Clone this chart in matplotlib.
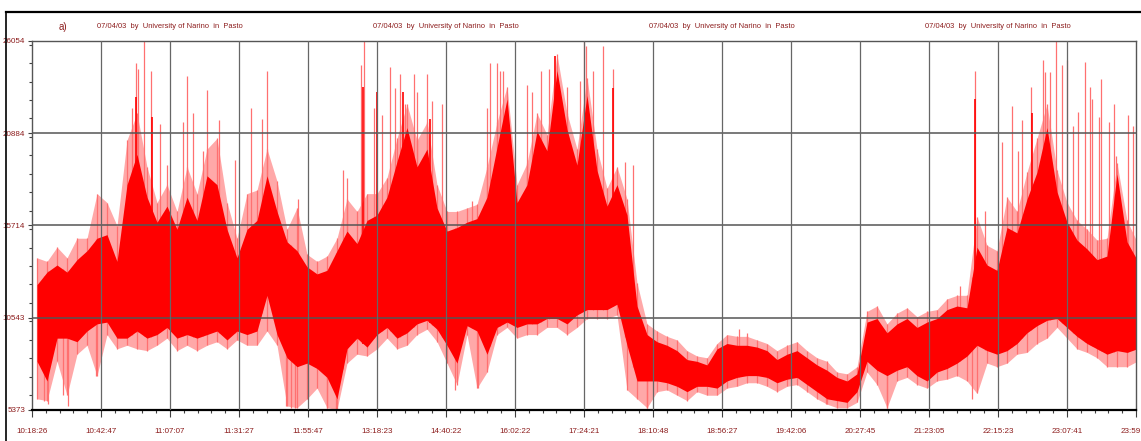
import numpy as np
import matplotlib.pyplot as plt
from matplotlib.lines import Line2D
from matplotlib.ticker import MultipleLocator

plt.rcParams['font.family'] = ['Liberation Sans Narrow', 'Liberation Sans', 'DejaVu Sans']

# x axis = sample index, one major tick every 69 samples
tick_labels = ['10:18:26', '10:42:47', '11:07:07', '11:31:27', '11:55:47', '13:18:23',
               '14:40:22', '16:02:22', '17:24:21', '18:10:48', '18:56:27', '19:42:06',
               '20:27:45', '21:23:05', '22:15:23', '23:07:41', '23:59:59']
y_ticks = [5373, 10543, 15714, 20884, 26054]

# envelope of the traffic signal, one reading every 10 samples
seg_x = np.arange(5, 1110, 10)
hi = [12400, 13100, 13500, 13100, 13800, 14300, 15000, 15200, 13700, 18000,
      19700, 17300, 15900, 16800, 15500, 17300, 16000, 18500, 18000, 15500,
      13900, 15500, 16000, 18500, 16500, 14800, 14300, 13400, 13000, 13200,
      14300, 15400, 14700, 16000, 16300, 17300, 19300, 21200, 19000, 20000,
      16700, 15400, 15600, 15900, 16100, 17300, 20100, 22800, 17000, 18000,
      21000, 19900, 24400, 21100, 19100, 23000, 18800, 16800, 18000, 16300,
      11200, 9600, 9200, 9000, 8700, 8200, 8100, 7900, 8800, 9100,
      9000, 9000, 8900, 8700, 8200, 8500, 8700, 8300, 7900, 7600,
      7200, 7000, 7400, 10300, 10500, 9700, 10200, 10500, 10000, 10300,
      10500, 11000, 11200, 11100, 14500, 13500, 13200, 15600, 15300, 17200,
      18700, 21200, 17600, 15900, 14900, 14400, 13800, 14000, 18600, 14800,
      13800]
up = [13900, 13700, 14500, 13900, 15000, 15000, 17500, 17000, 15700, 20500,
      22000, 19000, 17000, 18000, 16500, 19000, 17500, 20000, 20600, 17000,
      15000, 17500, 17700, 20000, 18200, 15500, 16700, 14100, 13700, 14000,
      15000, 17200, 16500, 17500, 17500, 18400, 20600, 22500, 20500, 21500,
      18000, 16500, 16500, 16700, 16900, 19000, 21500, 23500, 18000, 19200,
      22000, 20800, 25300, 22000, 20000, 24000, 20000, 17800, 19000, 17200,
      12500, 10200, 9800, 9500, 9300, 8700, 8400, 8300, 9100, 9600,
      9500, 9500, 9300, 9100, 8700, 9000, 9200, 8700, 8300, 8100,
      7500, 7400, 7800, 10900, 11200, 10200, 10800, 11100, 10600, 10900,
      11000, 11600, 11800, 11800, 16200, 14600, 14300, 17300, 16500, 18700,
      20600, 22500, 18800, 17000, 16000, 15500, 14900, 15000, 19200, 16000,
      14800]
lo = [8100, 7000, 9400, 9400, 9200, 9800, 10200, 10300, 9400, 9400,
      9800, 9400, 9600, 10000, 9400, 9600, 9400, 9600, 9800, 9300,
      9800, 9600, 9800, 11800, 9600, 8300, 7800, 8000, 7700, 7200,
      6000, 8800, 9400, 8900, 9600, 10000, 9400, 9700, 10200, 10400,
      9900, 9000, 8000, 10100, 9800, 8500, 10000, 10300, 10000, 10200,
      10200, 10500, 10500, 10200, 10700, 11000, 11000, 11000, 11300, 9000,
      7000, 7000, 7000, 6900, 6700, 6400, 6700, 6700, 6600, 7000,
      7200, 7300, 7300, 7200, 6900, 7100, 7200, 6800, 6400, 6000,
      5900, 5800, 6400, 8100, 7600, 7300, 7600, 7800, 7300, 7000,
      7500, 7700, 8000, 8400, 9000, 8700, 8500, 8700, 9100, 9700,
      10100, 10400, 10500, 10000, 9500, 9100, 8800, 8500, 8700, 8600,
      8800]
dn = [6000, 5900, 8100, 6200, 8500, 9000, 7300, 9600, 8800, 9000,
      8800, 8700, 9000, 9400, 8700, 9000, 8700, 9000, 9200, 8800,
      9300, 9000, 9000, 9800, 9000, 5600, 5500, 6000, 6600, 5500,
      5400, 8000, 8500, 8400, 8800, 9400, 8800, 9000, 9600, 9900,
      9200, 8000, 6800, 9600, 6600, 7500, 9600, 10000, 9400, 9600,
      9600, 10000, 10000, 9600, 10000, 10500, 10500, 10500, 10700, 6500,
      6000, 5500, 6400, 6500, 6200, 5900, 6400, 6200, 6200, 6600,
      6700, 6900, 6900, 6700, 6400, 6700, 6800, 6400, 6000, 5700,
      5500, 5500, 5800, 7500, 6800, 5500, 7000, 7200, 6800, 6600,
      7000, 7100, 7300, 7000, 6300, 8000, 7800, 8000, 8500, 8600,
      9100, 9400, 10000, 9400, 8800, 8600, 8300, 7800, 7800, 7800,
      8100]

# isolated peaks above the band (light) and strong peaks (solid)
spike_x = [100, 104, 106, 112, 119, 128, 135, 151, 155, 161, 171, 175, 187, 203, 219,
           230, 235, 266, 311, 315, 329, 332, 342, 350, 358, 363, 368, 373, 382, 385,
           395, 400, 410, 440, 455, 458, 465, 468, 471, 495, 500, 509, 517, 535, 548,
           552, 554, 561, 571, 581, 593, 601, 707, 715, 928, 943, 953, 970, 980, 986,
           990, 999, 1011, 1013, 1018, 1024, 1030, 1035, 1041, 1046, 1053, 1058, 1060,
           1067, 1069, 1077, 1082, 1084, 1096, 1101]
spike_top = [22300, 24800, 24500, 26054, 24400, 21400, 19100, 21500, 24100, 22000,
             19900, 23300, 21600, 19400, 22300, 21700, 24400, 17200, 18800, 18400,
             24700, 26054, 22300, 21900, 24600, 23400, 24200, 22500, 24200, 23200,
             24200, 22700, 22500, 17100, 22300, 24800, 24800, 24400, 24400, 23600,
             23200, 24400, 24500, 23500, 23800, 26054, 25800, 24400, 25800, 24500,
             19300, 19100, 9900, 9700, 12300, 24400, 16500, 20400, 22400, 19900,
             21600, 23500, 25000, 24300, 24300, 26054, 24700, 25000, 21300, 22100,
             24900, 23500, 22800, 21800, 23900, 21500, 22500, 19600, 21900, 21300]
solid_x = [104, 120, 331, 345, 371, 398, 523, 581, 943, 1000]
solid_top = [22900, 21800, 23500, 23200, 23200, 21700, 25200, 23400, 22800, 22000]
dip_x = [12, 16, 31, 36, 64, 254, 259, 263, 295, 304, 423, 446, 615, 794, 855, 940]
dip_low = [5900, 5700, 6200, 5600, 7300, 5600, 5500, 5500, 5500, 5400, 6500, 6600,
           5500, 5700, 5500, 6000]

fig = plt.figure(figsize=(11.41, 4.41), dpi=100)
ax = fig.add_axes([32 / 1141, 31 / 441, 1104 / 1141, 369 / 441])

light = '#ff7070'
ax.fill_between(seg_x, dn, up, color='#ffa8a8', lw=0, zorder=0.5)
ax.vlines(seg_x, dn, up, color=light, lw=0.9, zorder=1)
ax.vlines(spike_x, np.interp(spike_x, seg_x, lo), spike_top, color=light, lw=0.9, zorder=1)
ax.vlines(dip_x, dip_low, np.interp(dip_x, seg_x, hi), color=light, lw=0.9, zorder=1)
ax.fill_between(seg_x, lo, hi, color='#ff0000', lw=0, zorder=2)
ax.vlines(solid_x, np.interp(solid_x, seg_x, lo), solid_top, color='#ff0000', lw=1.2, zorder=2)

ax.set_xlim(0, 1104)
ax.set_ylim(y_ticks[0], y_ticks[-1])
ax.set_xticks(np.arange(len(tick_labels)) * 69)
ax.set_xticklabels(tick_labels)
ax.xaxis.set_minor_locator(MultipleLocator(69 / 5))
ax.set_yticks(y_ticks)
ax.yaxis.set_minor_locator(MultipleLocator((y_ticks[1] - y_ticks[0]) / 5))

lab_col = '#8c1c1c'
ax.tick_params(axis='both', which='major', labelsize=5.8, labelcolor=lab_col, length=5,
               width=0.8, color='#404040')
ax.tick_params(axis='y', which='major', length=3, pad=2)
ax.tick_params(axis='both', which='minor', length=2, width=0.8, color='#404040')
ax.tick_params(axis='x', pad=8)

for v in y_ticks[1:-1]:
    ax.axhline(v, color='#555555', lw=1.1, zorder=3)
for i in range(1, len(tick_labels) - 1):
    ax.axvline(i * 69, color='#666666', lw=0.9, zorder=3)

for side in ['top', 'right', 'left']:
    ax.spines[side].set_color('#555555')
    ax.spines[side].set_linewidth(1.0)
ax.spines['bottom'].set_color('black')
ax.spines['bottom'].set_linewidth(1.6)

# header texts
fig.text(63 / 1141, 1 - 27 / 441, 'a)', fontsize=7, color=lab_col, ha='center', va='center')
for c in [2, 6, 10, 14]:
    fig.text((32 + c * 69) / 1141, 1 - 27 / 441, '07/04/03  by  University of Narino  in  Pasto',
             fontsize=5.4, color=lab_col, ha='center', va='center')

# outer frame (top and left edges only are visible)
fig.add_artist(Line2D([6 / 1141, 1], [1 - 12 / 441, 1 - 12 / 441], color='black', lw=1.6))
fig.add_artist(Line2D([6 / 1141, 6 / 1141], [0, 1 - 12 / 441], color='black', lw=1.2))

fig.savefig('out.png', dpi=100)
